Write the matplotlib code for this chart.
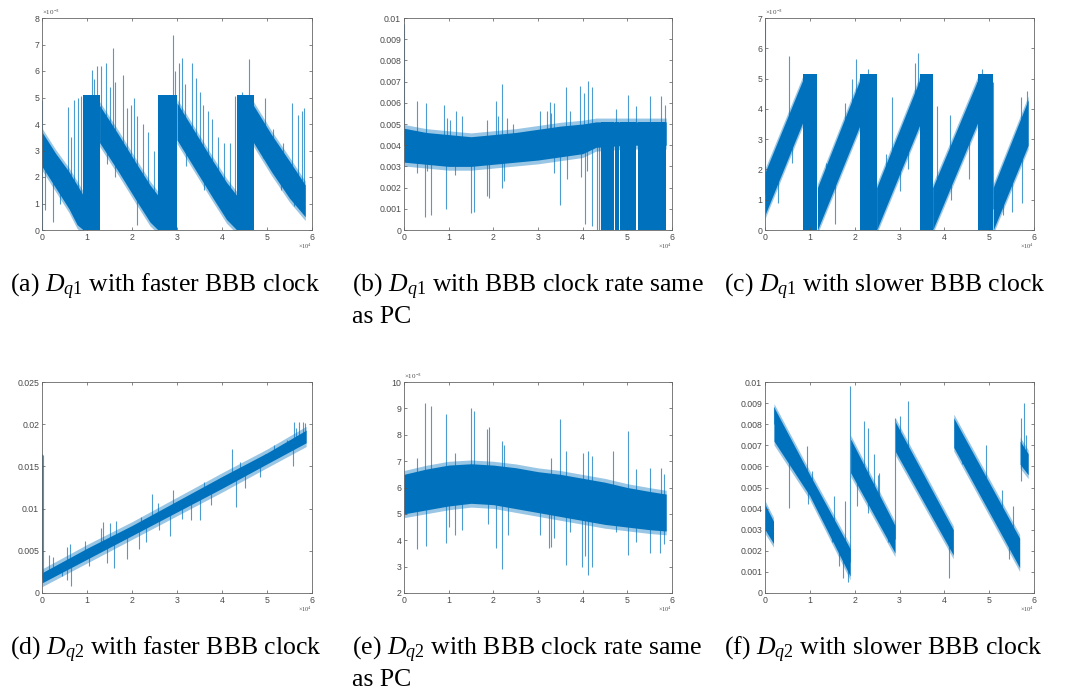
import numpy as np
import matplotlib
matplotlib.use('Agg')
import matplotlib.pyplot as plt

plt.rcParams['font.family'] = ['Liberation Sans', 'DejaVu Sans']
plt.rcParams['mathtext.fontset'] = 'custom'
plt.rcParams['mathtext.rm'] = 'Liberation Serif'
plt.rcParams['mathtext.it'] = 'Liberation Serif:italic'

BLUE = '#0072BD'

# ---------------- data (x in 1e4 samples, y in 1e-3 units) ----------------
# (a) Dq1, faster clock
a_seg_x = [[0.0, 0.30, 0.60, 0.78, 0.92], [1.28, 1.70, 2.10, 2.40, 2.58],
           [3.00, 3.40, 3.80, 4.10, 4.33], [4.70, 5.10, 5.50, 5.85]]
a_seg_lo = [[2.4, 1.6, 0.8, 0.2, 0.0], [3.3, 2.2, 1.1, 0.3, 0.0],
            [3.4, 2.3, 1.2, 0.4, 0.0], [3.3, 2.2, 1.2, 0.5]]
a_seg_hi = [[3.7, 2.9, 2.2, 1.7, 1.3], [4.7, 3.6, 2.5, 1.7, 1.3],
            [4.8, 3.7, 2.6, 1.8, 1.3], [4.7, 3.6, 2.6, 1.7]]
a_blk_x0 = [0.92, 2.58, 4.33]
a_blk_x1 = [1.28, 3.00, 4.70]
a_blk_hi = [5.1, 5.1, 5.1]
a_up = [(0.00, 4.9), (0.57, 4.65), (0.65, 3.5), (0.72, 4.9), (0.80, 5.0), (0.86, 5.05),
        (1.10, 6.05), (1.16, 5.7), (1.22, 6.2), (1.30, 6.2), (1.43, 6.3), (1.50, 5.4),
        (1.57, 6.85), (1.62, 5.6), (1.80, 5.85), (1.88, 4.6), (1.98, 4.7), (2.05, 5.0),
        (2.12, 4.3), (2.25, 4.0), (2.36, 3.7), (2.48, 3.0), (2.90, 7.35), (2.96, 6.0),
        (3.05, 6.3), (3.12, 6.5), (3.18, 5.5), (3.33, 6.3), (3.42, 5.75), (3.50, 5.2),
        (3.58, 4.7), (3.68, 4.5), (3.78, 4.2), (3.90, 3.5), (4.05, 3.3), (4.18, 3.3),
        (4.29, 5.05), (4.45, 5.2), (4.59, 6.45), (4.95, 5.0), (5.14, 3.8), (5.35, 3.3),
        (5.55, 4.8), (5.69, 4.35), (5.78, 4.5), (5.82, 4.6)]
a_dn = [(0.01, 0.0), (0.06, 0.75), (0.25, 0.3), (0.40, 1.0), (1.45, 2.5), (1.62, 2.0),
        (2.12, 0.2), (3.20, 2.4), (3.60, 1.5), (4.90, 2.7), (5.30, 1.5), (5.60, 0.9)]

# (b) Dq1, same clock rate
b_seg_x = [[0.0, 0.5, 1.0, 1.5, 2.0, 2.5, 3.0, 3.5, 4.0, 4.3, 5.0, 5.87]]
b_seg_lo = [[3.2, 3.1, 3.0, 3.0, 3.1, 3.2, 3.3, 3.45, 3.6, 3.9, 4.0, 4.0]]
b_seg_hi = [[4.8, 4.6, 4.5, 4.4, 4.5, 4.6, 4.75, 4.9, 5.0, 5.1, 5.1, 5.1]]
b_blk_x0 = [4.42, 4.73, 4.84, 5.23]
b_blk_x1 = [4.70, 4.81, 5.20, 5.87]
b_blk_hi = [5.1, 5.1, 5.1, 5.1]
b_up = [(0.0, 9.7), (0.3, 6.1), (0.5, 6.0), (0.9, 5.9), (0.97, 5.3), (1.03, 5.2),
        (1.17, 5.6), (1.3, 5.4), (1.85, 5.2), (2.07, 6.1), (2.1, 5.4), (2.2, 6.9),
        (2.3, 5.3), (2.45, 5.0), (3.05, 5.6), (3.2, 5.6), (3.27, 6.05), (3.3, 5.5),
        (3.35, 6.0), (3.62, 6.75), (3.72, 5.6), (3.95, 6.8), (4.02, 6.45), (4.13, 7.05),
        (4.2, 6.75), (4.75, 5.7), (5.02, 6.35), (5.2, 5.85), (5.5, 6.3), (5.75, 6.3),
        (5.85, 5.9)]
b_dn = [(0.3, 2.7), (0.48, 0.6), (0.52, 2.8), (0.6, 0.7), (0.95, 1.0), (1.15, 2.6),
        (1.5, 0.8), (1.57, 0.85), (1.85, 1.6), (1.9, 1.5), (2.2, 2.0), (2.23, 2.3),
        (3.35, 2.7), (3.5, 1.2), (3.65, 2.4), (3.97, 2.5), (4.05, 0.3), (4.1, 2.8),
        (4.2, 0.2), (4.32, 0.0), (4.36, 0.0), (4.40, 0.0)]

# (c) Dq1, slower clock
c_seg_x = [[0.0, 0.855], [1.17, 2.13], [2.49, 3.46], [3.74, 4.76], [5.09, 5.87]]
c_seg_lo = [[0.5, 3.6], [0.0, 3.5], [0.0, 3.5], [0.0, 3.6], [0.0, 2.8]]
c_seg_hi = [[1.9, 5.0], [1.4, 5.0], [1.4, 5.0], [1.4, 5.0], [1.4, 4.3]]
c_blk_x0 = [0.855, 2.13, 3.46, 4.76]
c_blk_x1 = [1.17, 2.49, 3.74, 5.09]
c_blk_hi = [5.15, 5.15, 5.15, 5.15]
c_up = [(0.0, 6.9), (0.53, 5.75), (1.35, 2.2), (1.78, 4.2), (1.93, 5.0), (2.02, 5.65),
        (2.3, 5.3), (2.7, 2.5), (2.83, 4.4), (3.35, 5.5), (3.41, 5.85), (3.68, 4.9),
        (3.83, 4.1), (4.13, 3.8), (4.72, 4.9), (4.85, 5.3), (5.09, 4.9), (5.72, 4.4),
        (5.84, 4.6)]
c_dn = [(0.3, 0.9), (0.6, 2.2), (1.57, 0.2), (2.73, 1.1), (3.0, 1.3), (3.2, 2.0),
        (4.14, 1.0), (4.55, 1.7), (5.3, 0.5), (5.52, 0.6), (5.73, 0.9)]

# (d) Dq2, faster clock
d_seg_x = [[0.0, 1.0, 2.0, 3.0, 4.0, 5.0, 5.87]]
d_seg_lo = [[1.2, 4.0, 6.8, 9.6, 12.4, 15.3, 17.8]]
d_seg_hi = [[2.4, 5.3, 8.0, 10.9, 13.8, 16.6, 19.3]]
d_up = [(0.0, 16.5), (0.01, 16.5), (0.02, 16.4), (0.15, 4.5), (0.25, 4.3), (0.55, 5.5),
        (0.62, 5.8), (0.95, 6.2), (1.3, 7.7), (1.35, 8.4), (1.5, 8.3), (1.65, 8.5),
        (2.2, 9.0), (2.45, 11.7), (2.57, 10.7), (2.9, 12.2), (3.6, 13.1), (3.95, 13.6),
        (4.22, 17.1), (4.4, 15.5), (4.95, 16.5), (5.15, 17.5), (5.45, 18.1), (5.6, 20.3),
        (5.65, 19.5), (5.7, 20.3), (5.8, 20.3), (5.85, 20.1)]
d_dn = [(0.45, 2.0), (0.56, 1.5), (0.65, 0.8), (1.05, 3.2), (1.45, 3.5), (1.6, 3.0),
        (1.88, 4.0), (2.15, 5.2), (2.3, 6.0), (2.6, 7.5), (2.85, 6.7), (3.1, 8.8),
        (3.3, 8.6), (3.5, 8.6), (3.75, 10.4), (4.3, 10.2), (4.5, 12.4), (4.85, 13.8),
        (5.57, 15.0)]

# (e) Dq2, same clock rate
e_seg_x = [[0.0, 0.5, 1.0, 1.5, 2.0, 2.5, 3.0, 3.5, 4.0, 4.5, 5.0, 5.5, 5.87]]
e_seg_lo = [[5.0, 5.15, 5.3, 5.4, 5.35, 5.2, 5.05, 4.9, 4.75, 4.6, 4.5, 4.4, 4.35]]
e_seg_hi = [[6.5, 6.7, 6.85, 6.9, 6.85, 6.75, 6.6, 6.5, 6.35, 6.2, 6.0, 5.85, 5.75]]
e_up = [(0.3, 7.1), (0.47, 9.2), (0.6, 9.1), (0.95, 8.8), (1.15, 7.3), (1.5, 9.0),
        (1.57, 8.9), (1.85, 8.2), (1.9, 8.3), (2.2, 7.75), (2.23, 7.6), (3.3, 7.1),
        (3.5, 8.6), (3.63, 7.4), (4.0, 7.3), (4.13, 7.4), (4.2, 7.2), (4.68, 7.4),
        (5.02, 8.15), (5.2, 6.7), (5.5, 6.75), (5.75, 6.75), (5.82, 6.5)]
e_dn = [(0.3, 3.65), (0.5, 3.8), (0.95, 3.9), (1.0, 4.5), (1.15, 4.2), (1.3, 4.4),
        (1.88, 4.6), (2.07, 3.7), (2.2, 2.9), (2.33, 4.2), (3.05, 4.2), (3.25, 3.7),
        (3.3, 3.75), (3.35, 4.1), (3.63, 3.05), (3.72, 4.3), (3.98, 3.0), (4.05, 3.4),
        (4.13, 2.7), (4.2, 3.0), (4.75, 4.3), (5.02, 3.45), (5.2, 3.95), (5.5, 3.5),
        (5.73, 3.5), (5.82, 3.85)]

# (f) Dq2, slower clock
f_seg_x = [[0.0, 0.19], [0.2, 1.0, 1.9], [1.91, 2.9], [2.91, 4.2], [4.21, 5.68], [5.69, 5.87]]
f_seg_lo = [[3.0, 2.35], [7.2, 4.6, 0.8], [5.7, 1.9], [6.7, 1.8], [6.9, 1.2], [6.1, 5.6]]
f_seg_hi = [[4.2, 3.4], [8.8, 5.6, 2.1], [7.3, 3.2], [8.1, 3.0], [8.3, 2.6], [7.2, 6.6]]
f_up = [(0.2, 8.8), (0.93, 6.95), (1.05, 5.8), (1.55, 4.6), (1.78, 4.35), (1.9, 9.8),
        (2.2, 8.15), (2.3, 7.8), (2.43, 6.6), (2.52, 5.6), (2.55, 5.7), (2.9, 8.3),
        (3.0, 8.4), (3.2, 9.1), (4.93, 7.0), (5.28, 4.9), (5.53, 4.1), (5.72, 8.3),
        (5.78, 9.0), (5.83, 7.5)]
f_dn = [(0.53, 4.05), (0.95, 4.2), (1.5, 2.4), (1.65, 1.3), (1.75, 0.7), (1.85, 0.5),
        (2.05, 4.1), (2.3, 3.8), (2.75, 2.4), (3.1, 6.5), (3.6, 4.6), (4.1, 0.7),
        (4.4, 6.1), (4.9, 4.3), (5.45, 1.6), (5.7, 5.3)]

captions = [
    [r'(a) $D_{q1}$ with faster BBB clock'],
    [r'(b) $D_{q1}$ with BBB clock rate same', 'as PC'],
    [r'(c) $D_{q1}$ with slower BBB clock'],
    [r'(d) $D_{q2}$ with faster BBB clock'],
    [r'(e) $D_{q2}$ with BBB clock rate same', 'as PC'],
    [r'(f) $D_{q2}$ with slower BBB clock'],
]

panels = [
    dict(sx=a_seg_x, lo=a_seg_lo, hi=a_seg_hi, bx0=a_blk_x0, bx1=a_blk_x1, bhi=a_blk_hi,
         up=a_up, dn=a_dn, scale=1.0, ylim=(0, 8), ystep=1, mult=True),
    dict(sx=b_seg_x, lo=b_seg_lo, hi=b_seg_hi, bx0=b_blk_x0, bx1=b_blk_x1, bhi=b_blk_hi,
         up=b_up, dn=b_dn, scale=1e-3, ylim=(0, 0.01), ystep=0.001, mult=False),
    dict(sx=c_seg_x, lo=c_seg_lo, hi=c_seg_hi, bx0=c_blk_x0, bx1=c_blk_x1, bhi=c_blk_hi,
         up=c_up, dn=c_dn, scale=1.0, ylim=(0, 7), ystep=1, mult=True),
    dict(sx=d_seg_x, lo=d_seg_lo, hi=d_seg_hi, bx0=[], bx1=[], bhi=[],
         up=d_up, dn=d_dn, scale=1e-3, ylim=(0, 0.025), ystep=0.005, mult=False),
    dict(sx=e_seg_x, lo=e_seg_lo, hi=e_seg_hi, bx0=[], bx1=[], bhi=[],
         up=e_up, dn=e_dn, scale=1.0, ylim=(2, 10), ystep=1, mult=True),
    dict(sx=f_seg_x, lo=f_seg_lo, hi=f_seg_hi, bx0=[], bx1=[], bhi=[],
         up=f_up, dn=f_dn, scale=1e-3, ylim=(0, 0.01), ystep=0.001, mult=False),
]

W, H = 1066, 692
fig = plt.figure(figsize=(W / 100, H / 100), dpi=100)

lefts = [42, 404, 765]
rights = [312, 672, 1034]
tops = [18, 382]
bottoms = [230, 593]
cap_x = [10, 352, 724]
cap_base = [292, 655]
cap_gap = 31


def center_at(p, x):
    best, bd = None, 1e9
    for sx, lo, hi in zip(p['sx'], p['lo'], p['hi']):
        if sx[0] <= x <= sx[-1]:
            return 0.5 * (np.interp(x, sx, lo) + np.interp(x, sx, hi))
        d = min(abs(x - sx[0]), abs(x - sx[-1]))
        if d < bd:
            bd = d
            xx = min(max(x, sx[0]), sx[-1])
            best = 0.5 * (np.interp(xx, sx, lo) + np.interp(xx, sx, hi))
    return best


for i, p in enumerate(panels):
    r, c = divmod(i, 3)
    l, rr = lefts[c], rights[c]
    t, b = tops[r], bottoms[r]
    ax = fig.add_axes([l / W, 1 - b / H, (rr - l) / W, (b - t) / H])
    s = p['scale']
    ymin, ymax = p['ylim']
    fr = 0.018 * (ymax - ymin)
    for sx, lo, hi in zip(p['sx'], p['lo'], p['hi']):
        sx = np.array(sx); lo = np.array(lo) * s; hi = np.array(hi) * s
        ax.fill_between(sx, lo - fr, hi + fr, color=BLUE, alpha=0.4, lw=0)
        ax.fill_between(sx, lo, hi, color=BLUE, lw=0)
    for x0, x1, bh in zip(p['bx0'], p['bx1'], p['bhi']):
        ax.fill_between([x0, x1], [0, 0], [bh * s, bh * s], color=BLUE, lw=0)
    for x, y in p['up'] + p['dn']:
        base = center_at(p, x) * s
        ax.plot([x, x], [base, y * s], color=BLUE, lw=0.8, alpha=0.7,
                solid_capstyle='butt')
    ax.set_xlim(0, 6)
    ax.set_ylim(ymin, ymax)
    ax.set_xticks(np.arange(0, 7, 1))
    ax.set_yticks(np.arange(ymin, ymax + p['ystep'] * 0.5, p['ystep']))
    ax.set_xticklabels([str(v) for v in range(0, 7)])
    ax.set_yticklabels(['%g' % round(v, 6) for v in ax.get_yticks()])
    ax.tick_params(direction='in', top=True, right=True, length=2.5, width=0.5,
                   labelsize=6.3, colors='#555555', labelcolor='#4a4a4a', pad=2)
    for sp in ax.spines.values():
        sp.set_color('#666666')
        sp.set_linewidth(0.6)
    if p['mult']:
        ax.text(0.0, 1.005, r'$\times10^{-3}$', transform=ax.transAxes, ha='left',
                va='bottom', fontsize=5, color='#4a4a4a')
    ax.text(1.0, -0.055, r'$\times10^{4}$', transform=ax.transAxes, ha='right',
            va='top', fontsize=4.5, color='#4a4a4a')
    for k, line in enumerate(captions[i]):
        fig.text(cap_x[c] / W, 1 - (cap_base[r] + k * cap_gap) / H, line,
                 ha='left', va='baseline', fontsize=18.5, family='Liberation Serif')

fig.savefig('out.png', dpi=100)
